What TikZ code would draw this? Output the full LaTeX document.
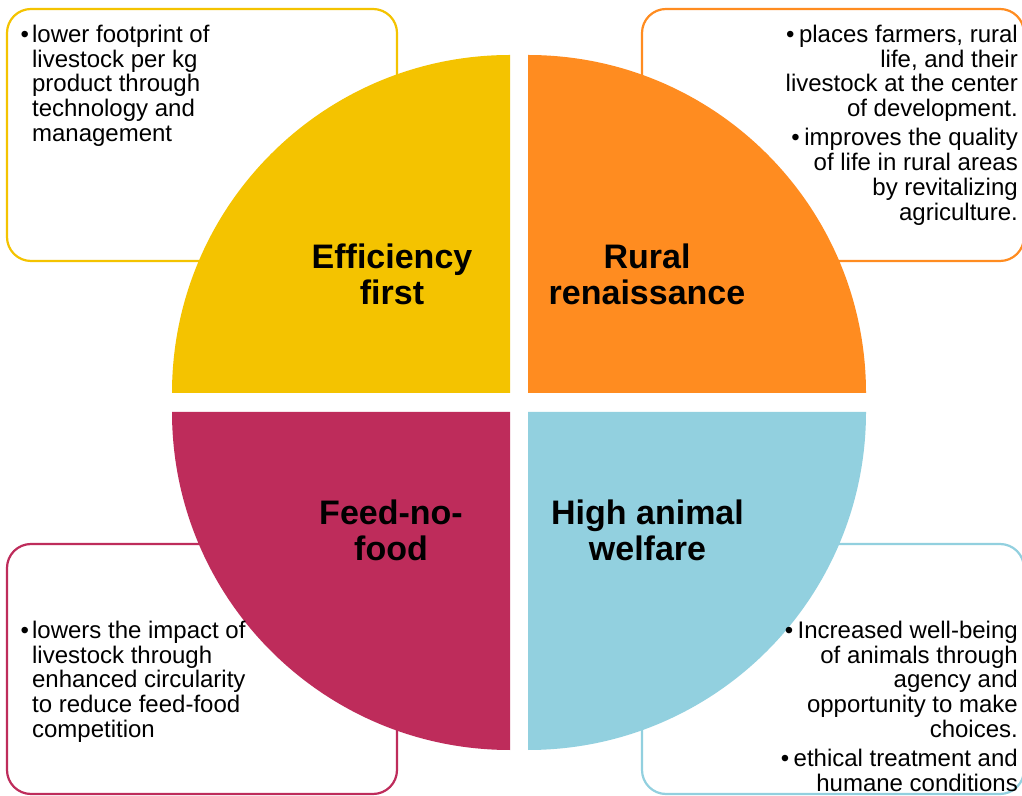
\documentclass[tikz,border=0pt]{standalone}
\usepackage{fontspec}
\setmainfont{Liberation Sans}
\definecolor{cyel}{HTML}{F4C300}
\definecolor{corg}{HTML}{FF8C20}
\definecolor{ccrm}{HTML}{BE2C5B}
\definecolor{cblu}{HTML}{92D0DF}
\begin{document}
\begin{tikzpicture}[x=1pt,y=1pt,
  infobox/.style={draw=#1, line width=2.2pt, rounded corners=24pt, fill=white},
  quadtitle/.style={font=\bfseries\fontsize{34}{35.5}\selectfont, inner sep=0pt, anchor=north},
  bodytext/.style={font=\fontsize{24}{24.7}\selectfont, inner sep=0pt}]
\useasboundingbox (0,0) rectangle (1022,795);
\clip (0,0) rectangle (1022,795);
\fill[white] (0,0) rectangle (1022,795);
% info boxes
\draw[infobox=cyel] (7,534) rectangle (397,786);
\draw[infobox=corg] (642,534) rectangle (1024,786);
\draw[infobox=ccrm] (7,1) rectangle (397,251);
\draw[infobox=cblu] (642,1) rectangle (1024,251);
% quadrants
\fill[cyel] (510,402) -- (172,402) arc[start angle=180,end angle=90,radius=338] -- cycle;
\fill[corg] (528,402) -- (528,740) arc[start angle=90,end angle=0,radius=338] -- cycle;
\fill[ccrm] (510,383) -- (510,45) arc[start angle=270,end angle=180,radius=338] -- cycle;
\fill[cblu] (528,383) -- (866,383) arc[start angle=0,end angle=-90,radius=338] -- cycle;
% titles
\node[quadtitle] (eff) at (392,551.5) {\begin{tabular}{@{}c@{}}Efficiency\\first\end{tabular}};
\node[quadtitle] (rur) at (647,551.5) {\begin{tabular}{@{}c@{}}Rural\\renaissance\end{tabular}};
\node[quadtitle] (fnf) at (391,295.2) {\begin{tabular}{@{}c@{}}Feed-no-\\food\end{tabular}};
\node[quadtitle] (haw) at (647.5,295.2) {\begin{tabular}{@{}c@{}}High animal\\welfare\end{tabular}};
% body texts
\node[bodytext, anchor=north west] (tl) at (20.5,770.3) {\begin{tabular}{@{}l@{\hspace{3pt}}l@{}}\textbullet & lower footprint of\\ & livestock per kg\\ & product through\\ & technology and\\ & management\end{tabular}};
\node[bodytext, anchor=north east] (tr) at (1018,770.3) {\begin{tabular}{@{}r@{}}\textbullet\hspace{4.5pt}places farmers, rural\\ life, and their\\ livestock at the center\\ of development.\\[4.5pt] \textbullet\hspace{4.5pt}improves the quality\\ of life in rural areas\\ by revitalizing\\ agriculture.\end{tabular}};
\node[bodytext, anchor=north west] (bl) at (20.5,174.3) {\begin{tabular}{@{}l@{\hspace{3pt}}l@{}}\textbullet & lowers the impact of\\ & livestock through\\ & enhanced circularity\\ & to reduce feed-food\\ & competition\end{tabular}};
\node[bodytext, anchor=north east] (br) at (1018,174.3) {\begin{tabular}{@{}r@{}}\textbullet\hspace{4.5pt}Increased well-being\\ of animals through\\ agency and\\ opportunity to make\\ choices.\\[4.5pt] \textbullet\hspace{4.5pt}ethical treatment and\\ humane conditions\end{tabular}};
\end{tikzpicture}
\end{document}
